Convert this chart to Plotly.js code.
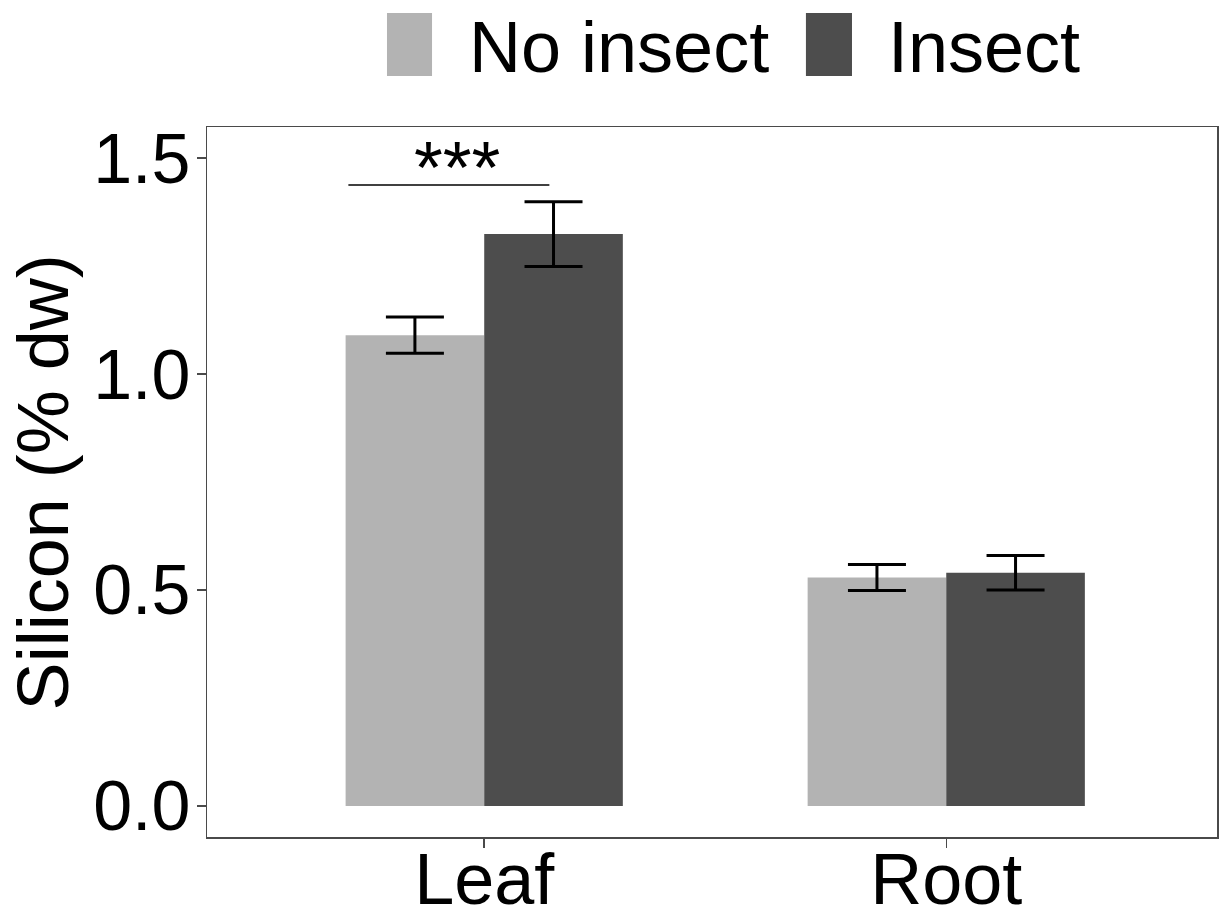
<!DOCTYPE html>
<html>
<head>
<meta charset="utf-8">
<script src="https://cdn.plot.ly/plotly-3.0.1.min.js"></script>
<style>html,body{margin:0;padding:0;background:#fff;}</style>
</head>
<body>
<div id="chart" style="width:1219px;height:912px;"></div>
<script>
// ---- data ----
const categories = ["Leaf", "Root"];
const seriesNames = ["No insect", "Insect"];
const noInsectMean = [1.09, 0.529];
const noInsectErr = [0.042, 0.03];
const insectMean = [1.324, 0.54];
const insectErr = [0.075, 0.04];
const yTickVals = [0, 0.5, 1.0, 1.5];
const yTickText = ["0.0", "0.5", "1.0", "1.5"];
const sigLabel = "***";
const yTitle = "Silicon (% dw)";

const colors = ["#b3b3b3", "#4d4d4d"];
const FONT = "Liberation Sans, Arial, sans-serif";
const frameColor = "#4a4a4a";

const errStyle = {type: "data", visible: true, color: "#000", thickness: 3, width: 29};

const traces = [
  {type: "bar", name: seriesNames[0], x: categories, y: noInsectMean,
   marker: {color: colors[0], line: {width: 0}},
   error_y: Object.assign({array: noInsectErr}, errStyle), showlegend: false},
  {type: "bar", name: seriesNames[1], x: categories, y: insectMean,
   marker: {color: colors[1], line: {width: 0}},
   error_y: Object.assign({array: insectErr}, errStyle), showlegend: false}
];

const layout = {
  width: 1219, height: 912,
  margin: {l: 207, r: 2, t: 127, b: 75},
  paper_bgcolor: "#fff", plot_bgcolor: "#fff",
  barmode: "group", bargap: 0.4, bargroupgap: 0,
  font: {family: FONT, size: 72, color: "#000"},
  showlegend: false,
  xaxis: {
    type: "category", range: [-0.6, 1.586], showgrid: false, zeroline: false,
    showline: true, mirror: true, linecolor: frameColor, linewidth: 1.5,
    ticks: "outside", ticklen: 9, tickwidth: 1.5, tickcolor: frameColor,
    ticklabelstandoff: -30, automargin: false,
    tickfont: {family: FONT, size: 72, color: "#000"}
  },
  yaxis: {
    range: [-0.072, 1.572], showgrid: false, zeroline: false,
    showline: true, mirror: true, linecolor: frameColor, linewidth: 1.5,
    ticks: "outside", ticklen: 9, tickwidth: 1.5, tickcolor: frameColor,
    ticklabelstandoff: -8, automargin: false,
    tickvals: yTickVals, ticktext: yTickText,
    tickfont: {family: FONT, size: 70, color: "#000"}
  },
  shapes: [
    {type: "line", xref: "x", yref: "y", x0: -0.294, x1: 0.141, y0: 1.4375, y1: 1.4375,
     line: {color: "#000", width: 1.5}},
    {type: "rect", xref: "paper", yref: "paper", x0: 0.1782, x1: 0.2228, y0: 1.0718, y1: 1.1606,
     fillcolor: colors[0], line: {width: 0}},
    {type: "rect", xref: "paper", yref: "paper", x0: 0.593, x1: 0.6386, y0: 1.0718, y1: 1.1606,
     fillcolor: colors[1], line: {width: 0}}
  ],
  annotations: [
    {text: sigLabel, xref: "x", yref: "y", x: -0.06, y: 1.478, xanchor: "center", yanchor: "middle",
     showarrow: false, font: {family: FONT, size: 74, color: "#000"}},
    {text: yTitle, xref: "paper", yref: "paper", x: -0.162, y: 0.5, xanchor: "center", yanchor: "middle",
     textangle: -90, showarrow: false, font: {family: FONT, size: 72, color: "#000"}},
    {text: seriesNames[0], xref: "paper", yref: "paper", x: 0.2579, y: 1.1127, xanchor: "left", yanchor: "middle",
     showarrow: false, font: {family: FONT, size: 72, color: "#000"}},
    {text: seriesNames[1], xref: "paper", yref: "paper", x: 0.6723, y: 1.1127, xanchor: "left", yanchor: "middle",
     showarrow: false, font: {family: FONT, size: 72, color: "#000"}}
  ]
};

Plotly.newPlot("chart", traces, layout, {displayModeBar: false, staticPlot: true});
</script>
</body>
</html>
